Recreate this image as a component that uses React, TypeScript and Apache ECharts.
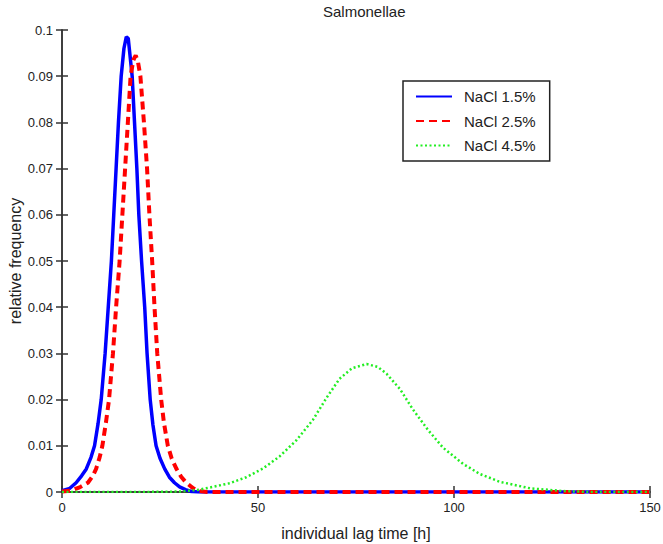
import React, { useEffect, useRef } from "react";
import * as echarts from "echarts";

const titleText = "Salmonellae";
const xAxisTitle = "individual lag time [h]";
const yAxisTitle = "relative frequency";
const seriesNames = ["NaCl 1.5%", "NaCl 2.5%", "NaCl 4.5%"];

const xTicks = { min: 0, max: 150, interval: 50 };
const yTicks = { min: 0, max: 0.1, interval: 0.01 };

const nacl15: [number, number][] = [
  [0, 0.0003], [2, 0.0008], [3.6, 0.002], [5, 0.0035], [6.2, 0.005], [7.4, 0.0075],
  [8.3, 0.01], [9.2, 0.0148], [10, 0.02], [11, 0.03], [11.8, 0.04], [12.6, 0.05],
  [13.2, 0.06], [13.8, 0.07], [14.4, 0.08], [15.1, 0.09], [15.8, 0.096], [16.4, 0.0985],
  [16.9, 0.0982], [17.9, 0.09], [18.5, 0.08], [19.1, 0.07], [19.6, 0.06], [20.3, 0.05],
  [21.1, 0.04], [21.7, 0.03], [22.5, 0.02], [23.2, 0.0145], [24, 0.01], [25, 0.0073],
  [26.2, 0.005], [27.4, 0.0032], [28.7, 0.002], [30, 0.0011], [31.5, 0.0005], [33, 0.0001],
  [35, 0], [40, 0], [60, 0], [80, 0], [100, 0], [120, 0], [150, 0],
];

const nacl25: [number, number][] = [
  [0, 0.0001], [2.3, 0.0003], [4.5, 0.001], [6.6, 0.002], [7.8, 0.0034], [8.7, 0.005],
  [9.6, 0.0075], [10.3, 0.01], [11.2, 0.015], [12, 0.02], [13, 0.03], [13.8, 0.04],
  [14.7, 0.05], [15.4, 0.06], [16.1, 0.07], [16.8, 0.08], [17.5, 0.09], [18.2, 0.0935],
  [18.8, 0.0945], [19.4, 0.093], [20, 0.09], [20.9, 0.08], [21.7, 0.07], [22.3, 0.06],
  [23, 0.05], [23.6, 0.04], [24.3, 0.03], [25.3, 0.02], [26, 0.015], [27, 0.01],
  [28, 0.0072], [29.2, 0.005], [30.4, 0.0033], [31.7, 0.002], [33.5, 0.0008], [35, 0.0002],
  [37, 0], [40, 0], [60, 0], [80, 0], [100, 0], [120, 0], [150, 0],
];

const nacl45: [number, number][] = [
  [0, 0], [20, 0], [30, 0.0001], [35, 0.0005], [38.4, 0.0011], [42.8, 0.0019],
  [47, 0.0032], [51.3, 0.0051], [55.5, 0.0077], [59.8, 0.0112], [64, 0.0156],
  [67.5, 0.0204], [70.8, 0.0245], [74, 0.0268], [77.7, 0.0277], [80.5, 0.0271],
  [82.8, 0.0256], [86.2, 0.0223], [89.5, 0.0179], [93.4, 0.0134], [97.2, 0.0096],
  [102.3, 0.0061], [106.6, 0.0039], [111.7, 0.0022], [119.4, 0.0008], [127.9, 0.0002],
  [135, 0], [150, 0],
];

const FONT = "'Liberation Sans', Arial, sans-serif";
const AXIS_COLOR = "#333";
const TEXT_COLOR = "#222";

export default function App() {
  const ref = useRef<HTMLDivElement>(null);

  useEffect(() => {
    document.body.style.margin = "0";
    if (!ref.current) return;
    const chart = echarts.init(ref.current, null, { renderer: "svg" });

    const axisLine = { show: true, lineStyle: { color: AXIS_COLOR, width: 1.5 } };
    const axisTick = { show: true, inside: true, length: 6, lineStyle: { color: AXIS_COLOR, width: 1.5 } };

    chart.setOption({
      animation: false,
      backgroundColor: "#fff",
      textStyle: { fontFamily: FONT },
      title: {
        text: titleText,
        left: 323,
        top: 4,
        padding: 0,
        textStyle: { fontSize: 15, fontWeight: "normal", color: TEXT_COLOR, fontFamily: FONT },
      },
      legend: {
        orient: "vertical",
        left: 403,
        top: 81,
        padding: [8, 14, 8, 12],
        itemWidth: 36,
        itemHeight: 14,
        itemGap: 9.5,
        borderColor: "#222",
        borderWidth: 1.5,
        borderRadius: 0,
        backgroundColor: "#fff",
        itemStyle: { opacity: 0 },
        textStyle: { fontSize: 15, color: TEXT_COLOR, fontFamily: FONT, padding: [0, 0, 0, 7] },
        data: seriesNames,
      },
      grid: { left: 62, right: 13, top: 30, bottom: 52, outerBoundsMode: "none", containLabel: false },
      xAxis: [
        {
          type: "value",
          min: xTicks.min,
          max: xTicks.max,
          interval: xTicks.interval,
          position: "bottom",
          name: xAxisTitle,
          nameLocation: "middle",
          nameGap: 33,
          nameMoveOverlap: false,
          nameTextStyle: { fontSize: 16, color: TEXT_COLOR, fontFamily: FONT },
          axisLine,
          axisTick,
          axisLabel: { fontSize: 13, color: TEXT_COLOR, margin: 9, fontFamily: FONT },
          splitLine: { show: false },
        },
        {
          type: "value",
          min: xTicks.min,
          max: xTicks.max,
          interval: xTicks.interval,
          position: "top",
          axisLine,
          axisTick,
          axisLabel: { show: false },
          splitLine: { show: false },
        },
      ],
      yAxis: [
        {
          type: "value",
          min: yTicks.min,
          max: yTicks.max,
          interval: yTicks.interval,
          position: "left",
          name: yAxisTitle,
          nameLocation: "middle",
          nameRotate: 90,
          nameGap: 39,
          nameMoveOverlap: false,
          nameTextStyle: { fontSize: 16, color: TEXT_COLOR, fontFamily: FONT },
          axisLine,
          axisTick,
          axisLabel: { fontSize: 13, color: TEXT_COLOR, margin: 9, fontFamily: FONT },
          splitLine: { show: false },
        },
        {
          type: "value",
          min: yTicks.min,
          max: yTicks.max,
          interval: yTicks.interval,
          position: "right",
          axisLine,
          axisTick,
          axisLabel: { show: false },
          splitLine: { show: false },
        },
      ],
      series: [
        {
          name: seriesNames[0],
          type: "line",
          data: nacl15,
          symbol: "none",
          xAxisIndex: 0,
          yAxisIndex: 0,
          lineStyle: { color: "#0000ff", width: 3.5, type: "solid" },
          itemStyle: { color: "#0000ff" },
        },
        {
          name: seriesNames[1],
          type: "line",
          data: nacl25,
          symbol: "none",
          xAxisIndex: 0,
          yAxisIndex: 0,
          lineStyle: { color: "#ff0000", width: 4, type: [8, 5], cap: "butt" },
          itemStyle: { color: "#ff0000" },
        },
        {
          name: seriesNames[2],
          type: "line",
          data: nacl45,
          symbol: "none",
          xAxisIndex: 0,
          yAxisIndex: 0,
          lineStyle: { color: "#22ee22", width: 2.5, type: [2, 2.5], cap: "butt" },
          itemStyle: { color: "#22ee22" },
        },
      ],
    });

    return () => chart.dispose();
  }, []);

  return <div ref={ref} style={{ width: 663, height: 544 }} />;
}
